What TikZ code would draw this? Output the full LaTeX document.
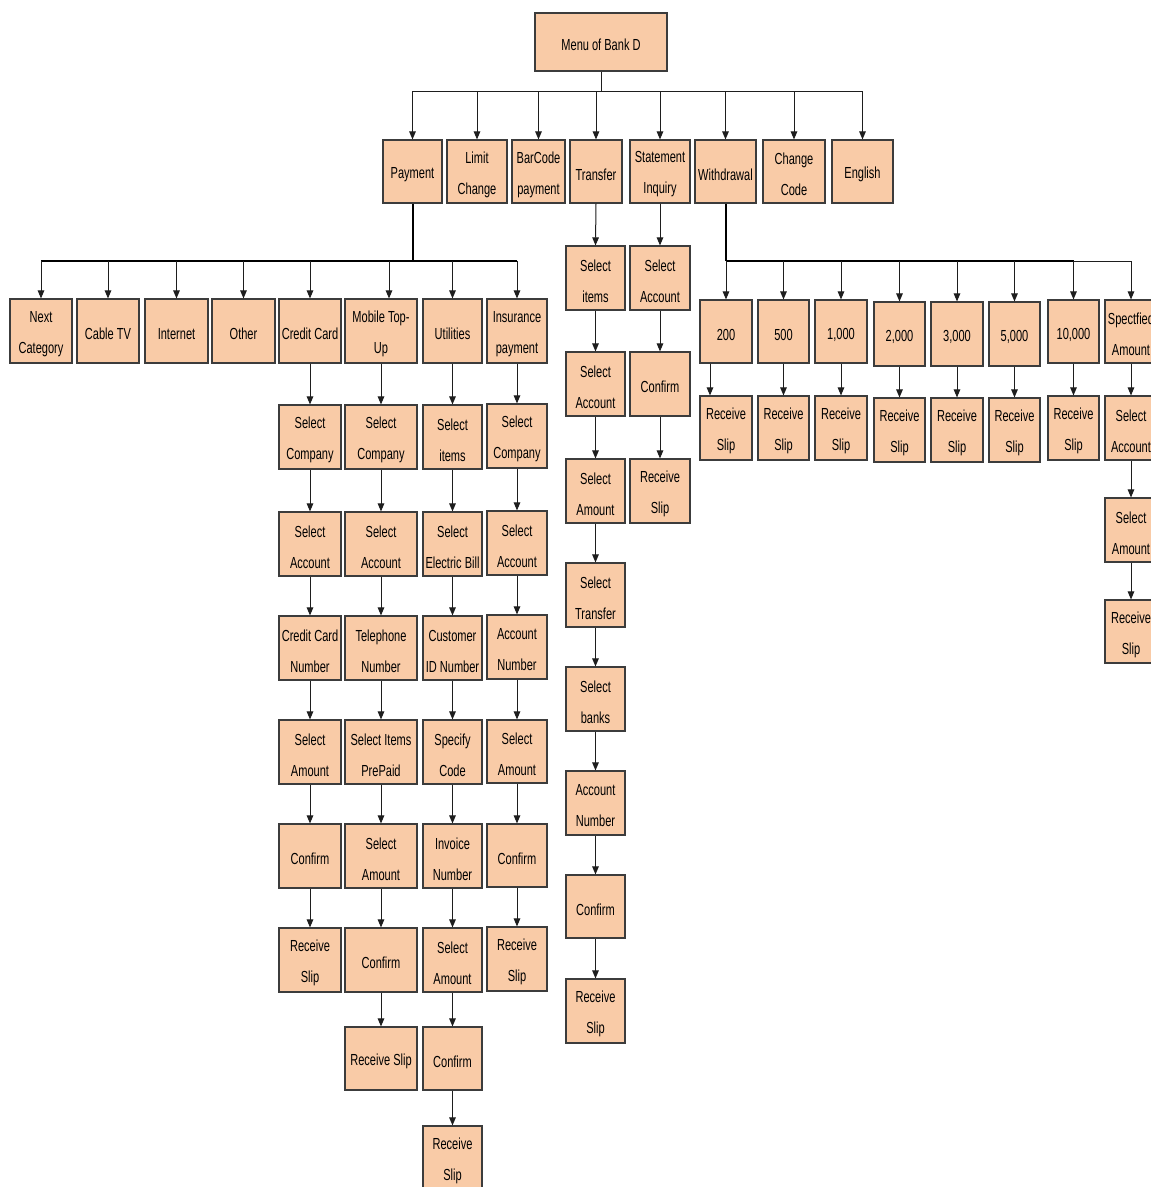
\documentclass[tikz,border=0pt]{standalone}
\usepackage{fontspec}
\setmainfont{Liberation Sans}[FakeStretch=0.69]
\usetikzlibrary{arrows.meta}
\definecolor{peach}{HTML}{F9CBA7}
\definecolor{edge}{HTML}{3C3C3C}
\definecolor{wire}{HTML}{1E1E1E}

% box from its left, top, right and bottom edges (pixel grid, y down);
% the label sits a little below the geometric centre
\newcommand\bx[6]{%
  \node[menubox, minimum width={#4-#2}, minimum height={#5-#3}]
    (#1) at ({(#2+#4)/2},{(#3+#5)/2}) {};
  \node[boxtext] (#1-t) at ([yshift=-3pt]#1.center) {#6};}

\begin{document}
\begin{tikzpicture}[x=1pt,y=-1pt,
  menubox/.style={draw=edge, fill=peach, line width=1.1pt, inner sep=0pt},
  boxtext/.style={inner sep=0pt, align=center,
    font=\fontsize{16}{31}\selectfont, text=black},
  wireline/.style={draw=wire, line width=1pt},
  busline/.style={draw=black, line width=2pt},
  arr/.style={wireline, -{Triangle[length=8pt,width=6.5pt]}}]
\useasboundingbox (0,0) rectangle (1151,1187);
\fill[white] (0,0) rectangle (1151,1187);

% ---- root and first level ----
\bx{menu}{535}{13}{667}{71}{Menu of Bank D}
\bx{pay}{383}{140}{442}{203}{Payment}
\bx{lim}{447}{140}{507}{203}{Limit\\Change}
\bx{bar}{512}{140}{565}{203}{BarCode\\payment}
\bx{tra}{570}{140}{622}{203}{Transfer}
\bx{sta}{630}{140}{690}{203}{Statement\\Inquiry}
\bx{wdr}{695}{140}{756}{203}{Withdrawal}
\bx{chg}{763}{140}{825}{203}{Change\\Code}
\bx{eng}{832}{140}{893}{203}{English}

\coordinate (mbus) at (601,91);
\draw[wireline] (menu.south) -- (mbus);
\draw[wireline] (pay.north |- mbus) -- (eng.north |- mbus);
\foreach \n in {pay,lim,bar,tra,sta,wdr,chg,eng}
  \draw[arr] (\n.north |- mbus) -- (\n.north);

% ---- payment categories ----
\bx{nxt}{10}{299}{72}{363}{Next\\Category}
\bx{cab}{77}{299}{139}{363}{Cable TV}
\bx{int}{145}{299}{208}{363}{Internet}
\bx{oth}{212}{299}{275}{363}{Other}
\bx{ccd}{279}{299}{341}{363}{Credit Card}
\bx{mob}{345}{299}{417}{363}{Mobile Top-\\Up}
\bx{utl}{423}{299}{482}{363}{Utilities}
\bx{ins}{487}{299}{547}{363}{Insurance\\payment}

\coordinate (pbus) at (413,261);
\draw[busline] (pay.south) -- (pay.south |- pbus);
\draw[busline] (nxt.north |- pbus) -- (ins.north |- pbus);
\foreach \n in {nxt,cab,int,oth,ccd,utl,ins}
  \draw[arr] (\n.north |- pbus) -- (\n.north);
\draw[arr] ([xshift=8pt]mob.north |- pbus) -- ([xshift=8pt]mob.north);

% ---- credit card ----
\bx{cc1}{279}{405}{341}{469}{Select\\Company}
\bx{cc2}{279}{512}{341}{576}{Select\\Account}
\bx{cc3}{279}{616}{341}{680}{Credit Card\\Number}
\bx{cc4}{279}{720}{341}{784}{Select\\Amount}
\bx{cc5}{279}{824}{341}{888}{Confirm}
\bx{cc6}{279}{928}{341}{992}{Receive\\Slip}

% ---- mobile top-up ----
\bx{mb1}{345}{405}{417}{469}{Select\\Company}
\bx{mb2}{345}{512}{417}{576}{Select\\Account}
\bx{mb3}{345}{616}{417}{680}{Telephone\\Number}
\bx{mb4}{345}{720}{417}{784}{Select Items\\PrePaid}
\bx{mb5}{345}{824}{417}{888}{Select\\Amount}
\bx{mb6}{345}{928}{417}{992}{Confirm}
\bx{mb7}{345}{1027}{417}{1090}{Receive Slip}

% ---- utilities ----
\bx{ut1}{423}{405}{482}{469}{Select\\items}
\bx{ut2}{423}{512}{482}{576}{Select\\Electric Bill}
\bx{ut3}{423}{616}{482}{680}{Customer\\ID Number}
\bx{ut4}{423}{720}{482}{784}{Specify\\Code}
\bx{ut5}{423}{824}{482}{888}{Invoice\\Number}
\bx{ut6}{423}{928}{482}{992}{Select\\Amount}
\bx{ut7}{423}{1027}{482}{1090}{Confirm}
\bx{ut8}{423}{1126}{482}{1190}{Receive\\Slip}

% ---- insurance ----
\bx{in1}{487}{404}{547}{468}{Select\\Company}
\bx{in2}{487}{511}{547}{575}{Select\\Account}
\bx{in3}{487}{615}{547}{679}{Account\\Number}
\bx{in4}{487}{720}{547}{783}{Select\\Amount}
\bx{in5}{487}{824}{547}{887}{Confirm}
\bx{in6}{487}{927}{547}{991}{Receive\\Slip}

% ---- transfer ----
\bx{tr1}{566}{246}{625}{310}{Select\\items}
\bx{tr2}{566}{352}{625}{416}{Select\\Account}
\bx{tr3}{566}{459}{625}{523}{Select\\Amount}
\bx{tr4}{566}{563}{625}{627}{Select\\Transfer}
\bx{tr5}{566}{667}{625}{731}{Select\\banks}
\bx{tr6}{566}{771}{625}{835}{Account\\Number}
\bx{tr7}{566}{875}{625}{938}{Confirm}
\bx{tr8}{566}{979}{625}{1043}{Receive\\Slip}

% ---- statement inquiry ----
\bx{st1}{630}{246}{690}{310}{Select\\Account}
\bx{st2}{630}{352}{690}{416}{Confirm}
\bx{st3}{630}{459}{690}{523}{Receive\\Slip}

% vertical chains
\foreach \a/\b in {ccd/cc1,cc1/cc2,cc2/cc3,cc3/cc4,cc4/cc5,cc5/cc6,
                   mob/mb1,mb1/mb2,mb2/mb3,mb3/mb4,mb4/mb5,mb5/mb6,mb6/mb7,
                   utl/ut1,ut1/ut2,ut2/ut3,ut3/ut4,ut4/ut5,ut5/ut6,ut6/ut7,ut7/ut8,
                   ins/in1,in1/in2,in2/in3,in3/in4,in4/in5,in5/in6,
                   tra/tr1,tr1/tr2,tr2/tr3,tr3/tr4,tr4/tr5,tr5/tr6,tr6/tr7,tr7/tr8,
                   sta/st1,st1/st2,st2/st3}
  \draw[arr] (\a.south) -- (\b.north);

% ---- withdrawal ----
\bx{w1}{700}{300}{752}{363}{200}
\bx{w2}{758}{300}{809}{363}{500}
\bx{w3}{815}{300}{867}{363}{1,000}
\bx{w4}{874}{302}{925}{366}{2,000}
\bx{w5}{931}{302}{983}{366}{3,000}
\bx{w6}{989}{302}{1040}{366}{5,000}
\bx{w7}{1048}{300}{1099}{363}{10,000}
\bx{w8}{1105}{300}{1157}{363}{Spectfied\\Amount}

\bx{r1}{700}{396}{752}{460}{Receive\\Slip}
\bx{r2}{758}{396}{809}{460}{Receive\\Slip}
\bx{r3}{815}{396}{867}{460}{Receive\\Slip}
\bx{r4}{874}{398}{925}{462}{Receive\\Slip}
\bx{r5}{931}{398}{983}{462}{Receive\\Slip}
\bx{r6}{989}{398}{1040}{462}{Receive\\Slip}
\bx{r7}{1048}{396}{1099}{460}{Receive\\Slip}
\bx{ws1}{1105}{396}{1157}{460}{Select\\Account}
\bx{ws2}{1105}{498}{1157}{562}{Select\\Amount}
\bx{ws3}{1105}{600}{1157}{663}{Receive\\Slip}

\coordinate (wbus) at (726,261);
\draw[busline] (wdr.south) -- (wdr.south |- wbus);
\draw[busline] (w1.north |- wbus) -- (w7.north |- wbus);
\draw[wireline] (w7.north |- wbus) -- (w8.north |- wbus);
\foreach \n in {w1,w2,w3,w4,w5,w6,w7,w8}
  \draw[arr] (\n.north |- wbus) -- (\n.north);

\draw[arr] ([xshift=-16pt]w1.south) -- ([xshift=-16pt]r1.north);
\foreach \a/\b in {w2/r2,w3/r3,w4/r4,w5/r5,w6/r6,w7/r7,w8/ws1,ws1/ws2,ws2/ws3}
  \draw[arr] (\a.south) -- (\b.north);
\end{tikzpicture}
\end{document}
